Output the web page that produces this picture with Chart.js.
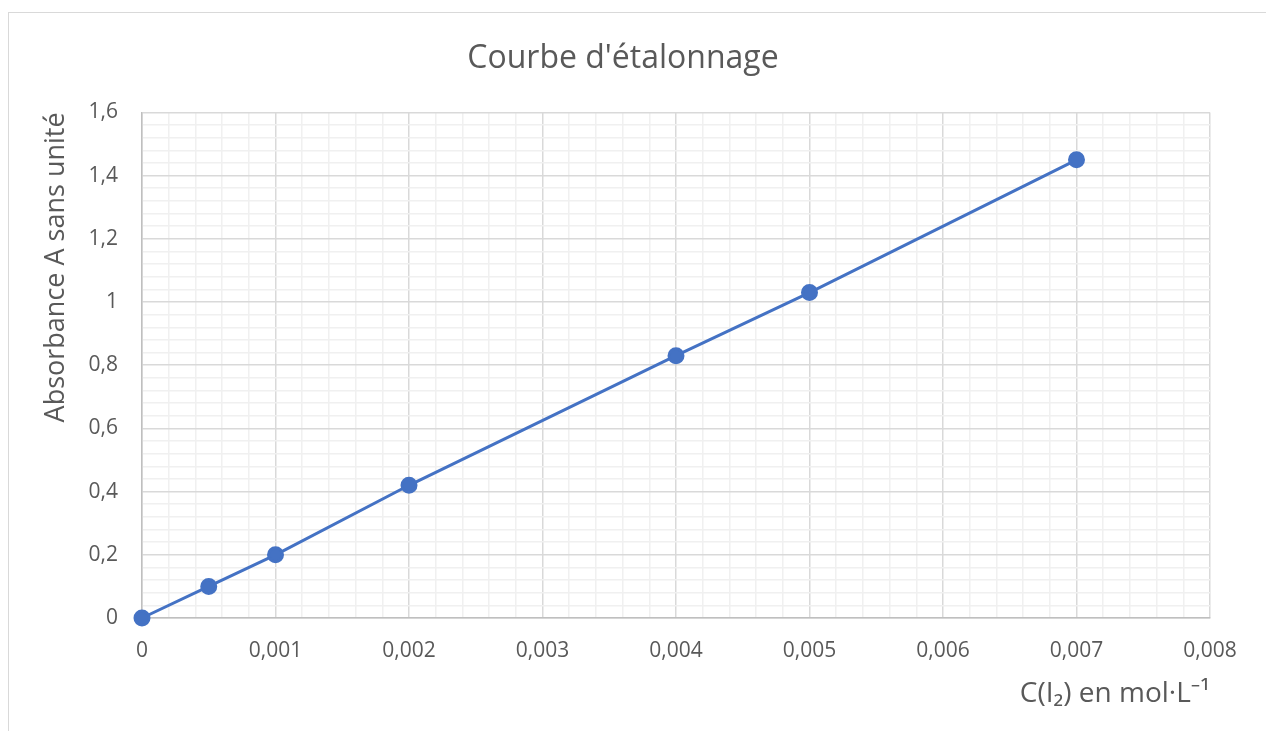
<!DOCTYPE html>
<html>
<head>
<meta charset="utf-8">
<script src="https://cdn.jsdelivr.net/npm/chart.js@4/dist/chart.umd.min.js"></script>
<style>
  body { margin: 0; background: #fff; }
  #frame { position: absolute; left: 8px; top: 12px; width: 1300px; height: 800px; border: 1px solid #d9d9d9; }
  #wrap { position: absolute; left: 0; top: 0; width: 1266px; height: 731px; }
</style>
</head>
<body>
<div id="frame"></div>
<div id="wrap"><canvas id="myChart"></canvas></div>
<script>
const concentrations = [0, 0.0005, 0.001, 0.002, 0.004, 0.005, 0.007];
const absorbances = [0, 0.1, 0.2, 0.42, 0.83, 1.03, 1.45];
const xTickLabels = ['0', '0,001', '0,002', '0,003', '0,004', '0,005', '0,006', '0,007', '0,008'];
const yTickLabels = ['0', '0,2', '0,4', '0,6', '0,8', '1', '1,2', '1,4', '1,6'];

const xMajor = 0.001;
const yMajor = 0.2;
const minorPerMajor = 5;
const textColor = '#595959';
const fontFamily = "'Open Sans', 'Noto Sans', sans-serif";

function majorLabel(value, major, labels) {
  const idx = Math.round(value / (major / minorPerMajor));
  if (idx % minorPerMajor !== 0) return '';
  return labels[idx / minorPerMajor];
}

function gridColor(context, major) {
  const idx = Math.round(context.tick.value / (major / minorPerMajor));
  return idx % minorPerMajor === 0 ? '#d9d9d9' : '#f0f0f0';
}

const ctx = document.getElementById('myChart').getContext('2d');

const chart = new Chart(ctx, {
  type: 'scatter',
  data: {
    datasets: [{
      label: 'Absorbance',
      data: concentrations.map((c, i) => ({ x: c, y: absorbances[i] })),
      showLine: true,
      clip: false,
      borderColor: '#4472C4',
      backgroundColor: '#4472C4',
      borderWidth: 3,
      pointRadius: 7,
      pointHoverRadius: 7,
    }]
  },
  options: {
    responsive: true,
    maintainAspectRatio: false,
    animation: false,
    layout: {
      padding: { left: 36, right: 56, top: 0, bottom: 0 }
    },
    plugins: {
      legend: { display: false },
      tooltip: { enabled: false },
      title: {
        display: true,
        text: "Courbe d'étalonnage",
        color: textColor,
        font: { family: fontFamily, size: 32, weight: 'normal' },
        padding: { top: 40, bottom: 34 },
      },
    },
    scales: {
      x: {
        type: 'linear',
        min: 0,
        max: 0.008,
        afterFit: function (scale) { scale.height = 113; },
        ticks: {
          stepSize: xMajor / minorPerMajor,
          maxTicksLimit: 100,
          autoSkip: false,
          maxRotation: 0,
          padding: 20,
          color: textColor,
          font: { family: fontFamily, size: 21 },
          callback: function (value) { return majorLabel(value, xMajor, xTickLabels); },
        },
        grid: {
          color: function (context) { return gridColor(context, xMajor); },
          lineWidth: 1.5,
          drawTicks: false,
        },
        border: { color: '#bfbfbf', width: 1.5 },
        title: {
          display: true,
          text: 'C(I₂) en mol·L⁻¹',
          align: 'end',
          color: textColor,
          font: { family: fontFamily, size: 28 },
          padding: { top: 4, bottom: 20 },
        },
      },
      y: {
        type: 'linear',
        min: 0,
        max: 1.6,
        afterFit: function (scale) { scale.width = 106; },
        ticks: {
          stepSize: yMajor / minorPerMajor,
          maxTicksLimit: 100,
          autoSkip: false,
          padding: 24,
          color: textColor,
          font: { family: fontFamily, size: 21 },
          callback: function (value) { return majorLabel(value, yMajor, yTickLabels); },
        },
        grid: {
          color: function (context) { return gridColor(context, yMajor); },
          lineWidth: 1.5,
          drawTicks: false,
        },
        border: { color: '#bfbfbf', width: 1.5 },
        title: {
          display: true,
          text: 'Absorbance A sans unité',
          align: 'end',
          color: textColor,
          font: { family: fontFamily, size: 27 },
        },
      },
    },
  },
});
</script>
</body>
</html>
